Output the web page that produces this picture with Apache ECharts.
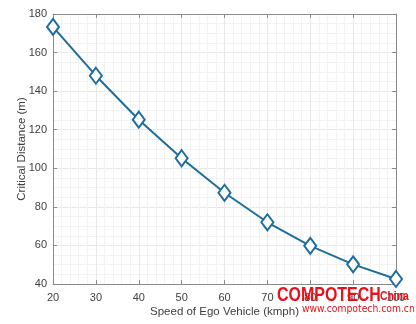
<!DOCTYPE html>
<html><head><meta charset="utf-8">
<script src="https://cdn.jsdelivr.net/npm/echarts@6/dist/echarts.min.js"></script>
<style>html,body{margin:0;padding:0;background:#fff}#c{width:416px;height:324px}</style>
</head><body><div id="c"></div>
<script>
const speeds = [20, 30, 40, 50, 60, 70, 80, 90, 100];
const distances = [173.3, 148, 125.2, 105.2, 87.3, 72, 59.8, 50.2, 42.6];
const xTicks = [20, 30, 40, 50, 60, 70, 80, 90, 100];
const yTicks = [40, 60, 80, 100, 120, 140, 160, 180];

const FONT = '"Liberation Sans", Arial, sans-serif';
const axisColor = '#8a8a8a';
const labelColor = '#404040';
const lineColor = '#1e6d9e';

const chart = echarts.init(document.getElementById('c'), null, {renderer: 'canvas'});
const commonX = {
  type: 'value', min: 20, max: 100, interval: 10,
  axisLine: {show: true, lineStyle: {color: axisColor, width: 1}},
  axisTick: {show: true, inside: true, length: 4, lineStyle: {color: axisColor}},
  minorTick: {show: false, splitNumber: 5},
  splitLine: {show: true, lineStyle: {color: '#e8e8e8', width: 1}},
  minorSplitLine: {show: true, lineStyle: {color: '#f2f2f2', width: 1}}
};
const commonY = {
  type: 'value', min: 40, max: 180, interval: 20,
  axisLine: {show: true, lineStyle: {color: axisColor, width: 1}},
  axisTick: {show: true, inside: true, length: 4, lineStyle: {color: axisColor}},
  minorTick: {show: false, splitNumber: 4},
  splitLine: {show: true, lineStyle: {color: '#e8e8e8', width: 1}},
  minorSplitLine: {show: true, lineStyle: {color: '#f2f2f2', width: 1}}
};
chart.setOption({
  animation: false,
  backgroundColor: '#ffffff',
  grid: {left: 53, right: 20, top: 14, bottom: 40, containLabel: false, outerBoundsMode: 'none'},
  xAxis: [
    Object.assign({}, commonX, {
      position: 'bottom',
      name: 'Speed of Ego Vehicle (kmph)', nameLocation: 'middle', nameGap: 22,
      nameMoveOverlap: false,
      nameTextStyle: {color: labelColor, fontSize: 11.5, fontFamily: FONT},
      axisLabel: {color: labelColor, fontSize: 11, fontFamily: FONT, margin: 8,
        formatter: v => xTicks.includes(v) ? String(v) : ''}
    }),
    Object.assign({}, commonX, {
      position: 'top', axisLabel: {show: false},
      splitLine: {show: false}, minorSplitLine: {show: false}
    })
  ],
  yAxis: [
    Object.assign({}, commonY, {
      position: 'left',
      name: 'Critical Distance (m)', nameLocation: 'middle', nameGap: 25,
      nameMoveOverlap: false,
      nameTextStyle: {color: labelColor, fontSize: 11.5, fontFamily: FONT},
      axisLabel: {color: labelColor, fontSize: 11, fontFamily: FONT, margin: 6,
        formatter: v => yTicks.includes(v) ? String(v) : ''}
    }),
    Object.assign({}, commonY, {
      position: 'right', axisLabel: {show: false},
      splitLine: {show: false}, minorSplitLine: {show: false}
    })
  ],
  series: [{
    type: 'line',
    data: speeds.map((s, i) => [s, distances[i]]),
    smooth: false,
    symbol: 'diamond',
    symbolSize: [12, 16],
    showAllSymbol: true,
    lineStyle: {color: lineColor, width: 2},
    itemStyle: {color: '#ffffff', borderColor: lineColor, borderWidth: 2},
    z: 5
  }],
  graphic: [
    {type: 'text', x: 277, y: 285, scaleX: 0.76, z: 100,
      style: {text: 'COMPOTECH', fill: '#e8101a', font: 'bold 21px "Liberation Sans", sans-serif'}},
    {type: 'text', x: 380, y: 290, scaleX: 0.8, z: 100,
      style: {text: 'China', fill: '#e8101a', font: 'bold 13px "Liberation Sans", sans-serif'}},
    {type: 'text', x: 302, y: 304, scaleX: 0.84, z: 100,
      style: {text: 'www.compotech.com.cn', fill: '#e8101a', font: '11px "DejaVu Sans", sans-serif'}}
  ]
});
</script></body></html>
